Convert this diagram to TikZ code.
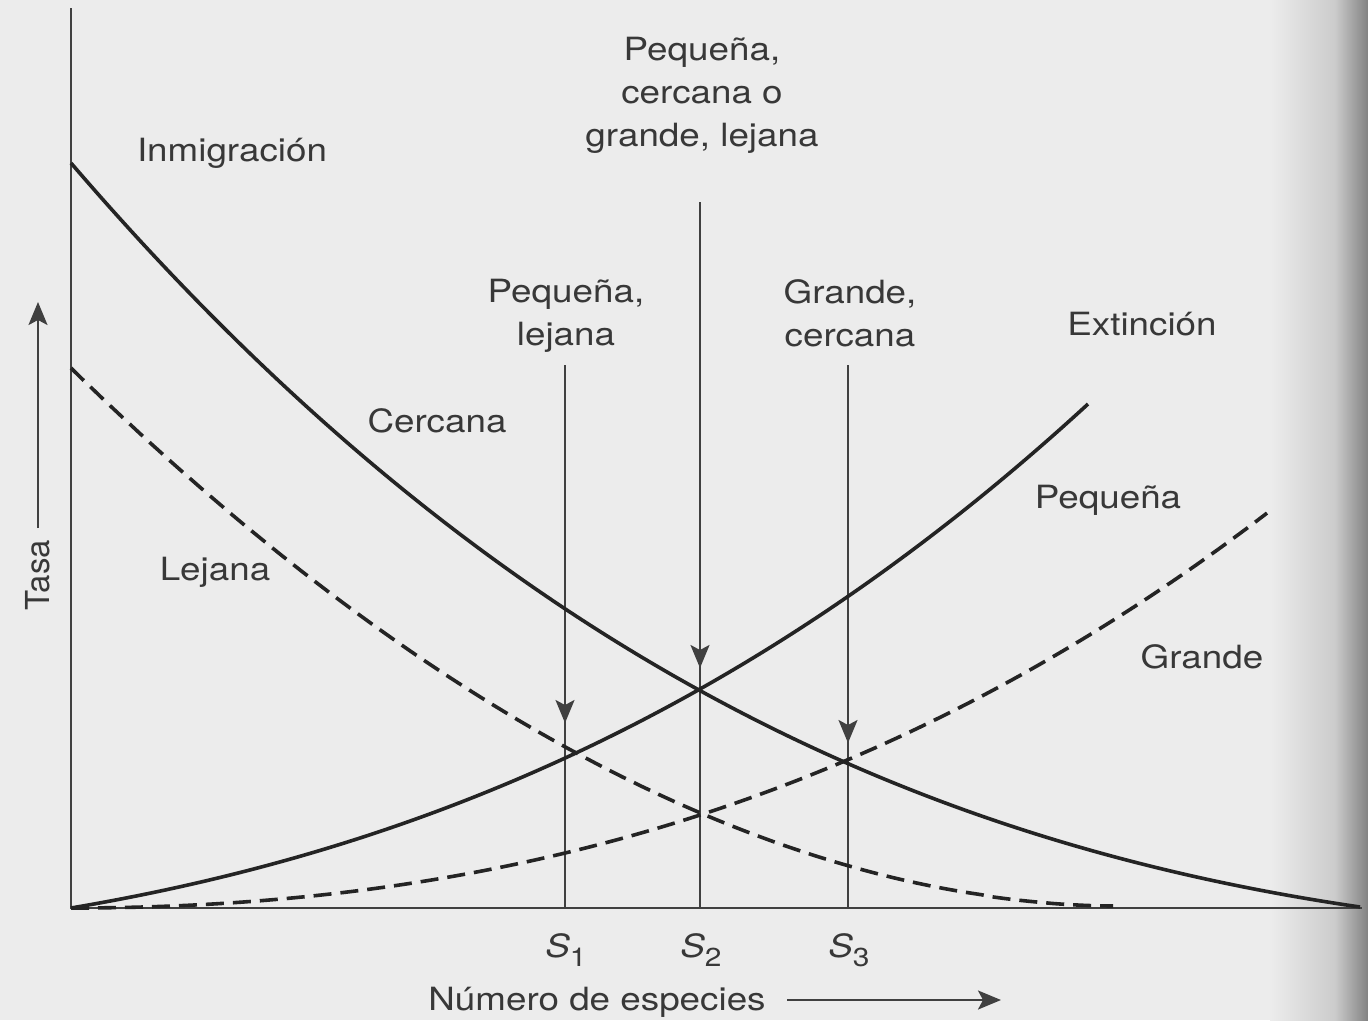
\documentclass[tikz,border=0pt]{standalone}
\usepackage{fontspec}
\setmainfont{TeX Gyre Heros}[FakeStretch=1.15]
\newfontfamily\plainheros{TeX Gyre Heros}
\usetikzlibrary{arrows.meta}
\definecolor{paper}{HTML}{ECECEC}
\definecolor{ink}{HTML}{242424}
\definecolor{thin}{HTML}{404040}
\definecolor{txt}{HTML}{383838}
\definecolor{edgeA}{HTML}{CBCBCB}
\definecolor{edgeB}{HTML}{828282}
\begin{document}
\begin{tikzpicture}[x=1pt,y=-1pt,
  lbl/.style={text=txt,font=\fontsize{32}{43}\selectfont,inner sep=0pt,align=center},
  curve/.style={draw=ink,line width=3.6pt,line join=round},
  dcurve/.style={curve,dash pattern=on 18pt off 9pt},
  vline/.style={draw=thin,line width=2.3pt},
  axis/.style={draw=thin,line width=2.8pt},
  darrow/.style={draw=thin,line width=2.3pt,-{Stealth[length=23pt,width=19pt,inset=5pt]}},
]
% paper
\fill[paper] (0,0) rectangle (1368,1020);
\shade[left color=paper,right color=edgeA] (1270,0) rectangle (1336,1020);
\shade[left color=edgeA,right color=edgeB] (1335,0) rectangle (1368,1020);
\useasboundingbox (0,0) rectangle (1368,1020);

% coordinates
\coordinate (O) at (71,908);
\coordinate (ytop) at (71,8);
\coordinate (xend) at (1362,908);
\coordinate (s1top) at (565,365);
\coordinate (s1tip) at (565,723);
\coordinate (s1bot) at (565,908);
\coordinate (s2top) at (700,202);
\coordinate (s2tip) at (700,668);
\coordinate (s2bot) at (700,908);
\coordinate (s3top) at (848,365);
\coordinate (s3tip) at (848,743);
\coordinate (s3bot) at (848,908);
\coordinate (tasaA) at (38,528);
\coordinate (tasaB) at (38,302);
\coordinate (numA) at (787,1000);
\coordinate (numB) at (1001,1000);

% vertical guide lines with arrows
\draw[vline] (s1top) -- (s1bot);
\draw[darrow] (s1top) -- (s1tip);
\draw[vline] (s2top) -- (s2bot);
\draw[darrow] (s2top) -- (s2tip);
\draw[vline] (s3top) -- (s3bot);
\draw[darrow] (s3top) -- (s3tip);

% axes
\draw[axis] (ytop) -- (O) -- (xend);

% curves
% inmigracion, cercana
\draw[curve] plot[domain=71:1360,samples=140,smooth]
  (\x,{907-(146.4*((1360-\x)/1000)+212.9*((1360-\x)/1000)^2+94.1*((1360-\x)/1000)^3)});
% inmigracion, lejana
\draw[dcurve] plot[domain=71:1113,samples=120,smooth]
  (\x,{906-538*((1115-\x)/1044)^1.9});
% extincion, pequena
\draw[curve] plot[domain=71:1088,samples=120,smooth]
  (\x,{908-(169.21*((\x-71)/1000)+225.5*((\x-71)/1000)^2+93.82*((\x-71)/1000)^3)});
% extincion, grande
\draw[dcurve] plot[domain=71:1267,samples=120,smooth]
  (\x,{908-(189.5*((\x-71)/1000)^2+72.4*((\x-71)/1000)^3)});

% axis labels
\draw[darrow] (tasaA) -- (tasaB);
\node[lbl,anchor=base,rotate=90] (tasa) at (49,575) {\plainheros\fontsize{33}{40}\selectfont Tasa};
\node[lbl,anchor=base] (num) at (597,1010) {Número de especies};
\draw[darrow] (numA) -- (numB);

% S labels
\node[lbl,anchor=base] (S1) at (566,957) {\textit{S}\raisebox{-9pt}{\fontsize{26}{26}\selectfont 1}};
\node[lbl,anchor=base] (S2) at (701,957) {\textit{S}\raisebox{-9pt}{\fontsize{26}{26}\selectfont 2}};
\node[lbl,anchor=base] (S3) at (849,957) {\textit{S}\raisebox{-9pt}{\fontsize{26}{26}\selectfont 3}};

% text labels
\node[lbl,anchor=base] (inm) at (232,161) {Inmigración};
\node[lbl] (top) at (702,95) {Pequeña,\\cercana o\\grande, lejana};
\node[lbl] (pl) at (566,316) {Pequeña,\\lejana};
\node[lbl] (gc) at (850,313) {Grande,\\cercana};
\node[lbl,anchor=base] (cer) at (437,432) {Cercana};
\node[lbl,anchor=base] (lej) at (215,580) {Lejana};
\node[lbl,anchor=base] (ext) at (1142,335) {Extinción};
\node[lbl,anchor=base] (peq) at (1108,508) {Pequeña};
\node[lbl,anchor=base] (gra) at (1202,668) {Grande};
\end{tikzpicture}
\end{document}
